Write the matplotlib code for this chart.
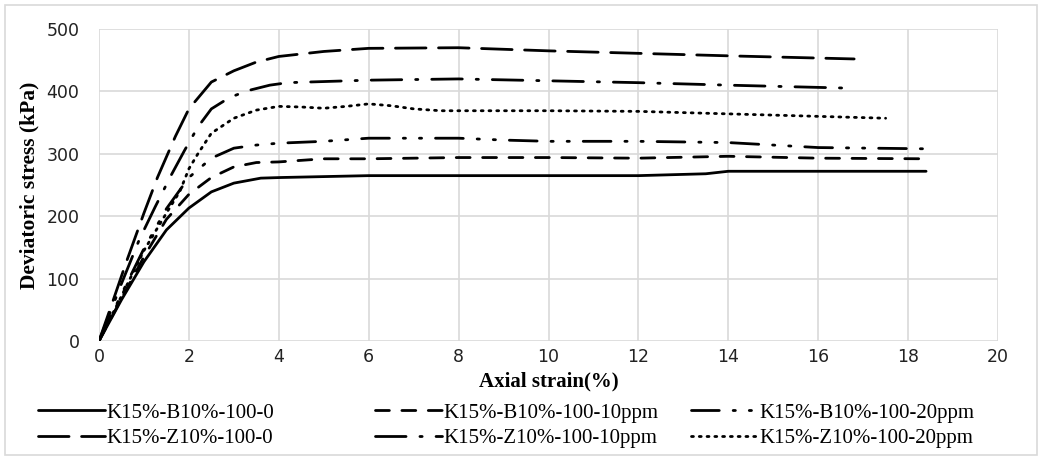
"""
Deviatoric stress vs axial strain for six K15% mixes (B10 / Z10, 0-20 ppm).
"""

import matplotlib
matplotlib.use('Agg')
import matplotlib.pyplot as plt
from matplotlib.patches import Rectangle

# Curves (strain %, stress kPa)
b10_0_x = [0, 0.5, 1, 1.5, 2, 2.5, 3, 3.6, 4.05, 6, 8, 10, 12, 13.5, 14, 16, 18.4]
b10_0_y = [0, 66, 127, 178, 213, 239, 253, 261, 262, 265, 265, 265, 265, 268, 272, 272, 272]

b10_10_x = [0, 0.5, 1, 1.5, 2, 2.5, 3, 3.5, 4, 5, 6, 8, 10, 12, 14, 16, 18.4]
b10_10_y = [0, 68, 135, 195, 235, 262, 279, 286, 287, 292, 292, 294, 294, 293, 296, 293, 292]

b10_20_x = [0, 0.5, 1, 1.5, 2, 2.5, 3, 3.5, 4, 5, 6, 8, 9, 10, 12, 14, 16, 18.4]
b10_20_y = [0, 75, 148, 212, 262, 293, 309, 314, 317, 320, 325, 325, 322, 320, 320, 318, 310, 308]

z10_0_x = [0, 0.3, 0.6, 1, 1.3, 1.7, 2, 2.5, 3, 3.5, 4, 5, 6, 8, 10, 12, 14, 16.8]
z10_0_y = [0, 62, 125, 205, 262, 328, 372, 415, 433, 447, 456, 464, 469, 470, 465, 461, 457, 452]

z10_10_x = [0, 0.5, 0.9, 1.25, 1.6, 1.9, 2.2, 2.5, 2.9, 3.3, 3.8, 4.2, 6, 8, 10, 12, 14, 16.8]
z10_10_y = [0, 92, 163, 215, 265, 305, 343, 372, 390, 401, 410, 414, 418, 420, 417, 414, 410, 405]

z10_20_x = [0, 0.5, 1, 1.5, 1.8, 2, 2.2, 2.5, 3, 3.5, 4, 4.5, 5, 5.5, 6, 6.5, 7, 7.6,
            10, 12, 14, 16, 17.5]
z10_20_y = [0, 72, 145, 205, 240, 276, 300, 333, 357, 370, 376, 375, 373, 376, 380, 377, 372, 369,
            369, 368, 364, 360, 357]

labels = ['K15%-B10%-100-0', 'K15%-B10%-100-10ppm', 'K15%-B10%-100-20ppm',
          'K15%-Z10%-100-0', 'K15%-Z10%-100-10ppm', 'K15%-Z10%-100-20ppm']

x_ticks = list(range(0, 21, 2))
y_ticks = list(range(0, 501, 100))

# line styles (dash lengths in linewidth units)
LW = 2.0
STYLES = [
    '-',
    (0, (5, 4.5)),
    (0, (10, 5, 0.8, 5, 0.8, 5)),
    (0, (11, 4.5)),
    (0, (11, 5, 0.8, 5)),
    (0, (0.7, 2.1)),
]

series = [(b10_0_x, b10_0_y), (b10_10_x, b10_10_y), (b10_20_x, b10_20_y),
          (z10_0_x, z10_0_y), (z10_10_x, z10_10_y), (z10_20_x, z10_20_y)]

fig = plt.figure(figsize=(10.45, 4.59), dpi=100)
ax = fig.add_axes([99 / 1045, 1 - 341 / 459, (998 - 99) / 1045, (341 - 29) / 459])

handles = []
for (xs, ys), ls, lab in zip(series, STYLES, labels):
    h, = ax.plot(xs, ys, color='black', linewidth=LW, linestyle=ls, label=lab,
                 solid_capstyle='round', dash_capstyle='round')
    handles.append(h)

ax.set_xlim(0, 20)
ax.set_ylim(0, 500)
ax.set_xticks(x_ticks)
ax.set_yticks(y_ticks)
ax.grid(True, color='#d9d9d9', linewidth=1.2)
ax.set_axisbelow(True)
for s in ax.spines.values():
    s.set_visible(False)
ax.tick_params(length=0, labelsize=12.5, colors='#222222')
ax.tick_params(axis='y', pad=14)
ax.tick_params(axis='x', pad=5)

ax.set_xlabel('Axial strain(%)', family='Liberation Serif', fontweight='bold',
              fontsize=15, labelpad=4)
ax.set_ylabel('Deviatoric stress (kPa)', family='Liberation Serif', fontweight='bold',
              fontsize=15.5, labelpad=5)

# Excel-like legend: three evenly spaced columns, two rows each
col_x = [38 / 1045, 375 / 1045, 691 / 1045]
for i, cx in enumerate(col_x):
    fig.legend([handles[i], handles[i + 3]], [labels[i], labels[i + 3]],
               loc='upper left', bbox_to_anchor=(cx, 1 - 403 / 459),
               frameon=False, prop={'family': 'Liberation Serif', 'size': 15},
               handlelength=3.2, handletextpad=0.1, labelspacing=0.3,
               borderaxespad=0, borderpad=0)

# light outer frame like the chart area border
fig.patches.append(Rectangle((5 / 1045, 4 / 459), 1032 / 1045, 450 / 459,
                             transform=fig.transFigure, fill=False,
                             edgecolor='#d9d9d9', linewidth=1.2))

fig.savefig('out.png', dpi=100)
